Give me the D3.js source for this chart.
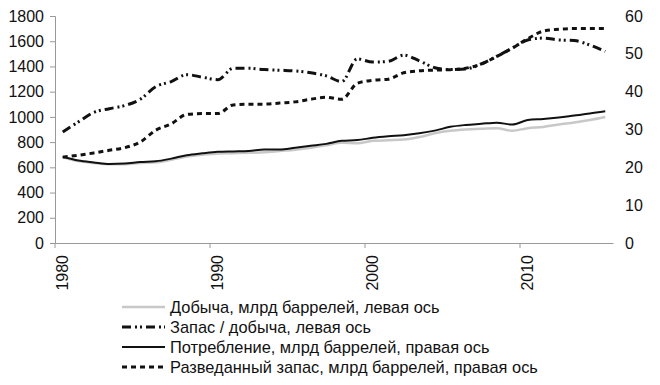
<!DOCTYPE html>
<html>
<head>
<meta charset="utf-8">
<script src="https://cdn.jsdelivr.net/npm/d3@7"></script>
<style>
  body { margin: 0; background: #fff; }
  text { font-family: "Liberation Sans", Arial, sans-serif; fill: #111; }
</style>
</head>
<body>
<div id="chart-area"></div>
<script>
// data
var years = d3.range(1980, 2016);

// left axis
var production = [680, 650, 635, 625, 625, 635, 640, 660, 685, 700, 710, 712, 715, 720, 730, 740, 755, 775,
    795, 790, 810, 815, 820, 840, 870, 890, 900, 905, 910, 890, 910, 920, 940, 955, 975, 1000];
var ratio = [880, 960, 1035, 1065, 1090, 1140, 1240, 1280, 1335, 1315, 1295, 1385, 1385, 1375, 1370, 1365, 1350, 1325,
    1280, 1460, 1435, 1440, 1490, 1445, 1390, 1375, 1380, 1420, 1480, 1545, 1610, 1625, 1610, 1605, 1570, 1520];
// right axis
var consumption = [22.8, 21.8, 21.3, 20.9, 21.0, 21.4, 21.6, 22.3, 23.2, 23.7, 24.1, 24.2, 24.3, 24.7, 24.7, 25.2, 25.7, 26.2,
    27.0, 27.2, 27.8, 28.2, 28.5, 29.0, 29.7, 30.7, 31.2, 31.5, 31.8, 31.3, 32.5, 32.8, 33.2, 33.7, 34.2, 34.8];
var reserves = [22.7, 23.2, 23.8, 24.5, 25.2, 26.7, 29.8, 31.5, 34.0, 34.2, 34.2, 36.5, 36.7, 36.7, 37.0, 37.3, 38.0, 38.5,
    38.0, 42.2, 43.0, 43.3, 45.0, 45.5, 45.7, 45.8, 46.2, 47.3, 49.3, 51.5, 54.0, 56.0, 56.5, 56.7, 56.7, 56.7];

var leftTicks = d3.range(0, 1801, 200);
var rightTicks = d3.range(0, 61, 10);
var yearLabels = [1980, 1990, 2000, 2010];

var legendNames = [
    "Добыча, млрд баррелей, левая ось",
    "Запас / добыча, левая ось",
    "Потребление, млрд баррелей, правая ось",
    "Разведанный запас, млрд баррелей, правая ось"
];

var margin = { left: 55, right: 47, top: 16, bottom: 142 };
var width = 660 - margin.left - margin.right,
    height = 385 - margin.top - margin.bottom;

var svg = d3.select("#chart-area")
    .append("svg")
    .attr("width", 660)
    .attr("height", 385);

var g = svg.append("g")
    .attr("transform", "translate(" + margin.left + "," + margin.top + ")");

// Scales
var x = d3.scaleBand()
    .domain(years)
    .range([0, width]);
var yLeft = d3.scaleLinear()
    .domain([0, 1800])
    .range([height, 0]);
var yRight = d3.scaleLinear()
    .domain([0, 60])
    .range([height, 0]);

function cx(i) { return x(years[i]) + x.bandwidth() / 2; }

// Left axis
var leftAxis = g.append("g")
    .call(d3.axisLeft(yLeft).tickValues(leftTicks).tickFormat(d3.format("d")).tickSize(5).tickPadding(6));
leftAxis.selectAll("text").style("font-size", "16px");
leftAxis.select(".domain").attr("stroke", "#999");
leftAxis.selectAll(".tick line").attr("stroke", "#999");

// Right axis: labels only
var rightAxis = g.append("g")
    .attr("transform", "translate(" + width + ",0)")
    .call(d3.axisRight(yRight).tickValues(rightTicks).tickSize(0).tickPadding(12));
rightAxis.selectAll("text").style("font-size", "16px");
rightAxis.select(".domain").remove();

// Bottom axis
var bottomAxis = g.append("g")
    .attr("transform", "translate(0," + height + ")")
    .call(d3.axisBottom(x).tickValues([]).tickSizeOuter(0));
bottomAxis.select(".domain").attr("stroke", "#999");
bottomAxis.selectAll(".yr")
    .data(yearLabels)
    .enter().append("line")
    .attr("x1", function(d) { return x(d); })
    .attr("x2", function(d) { return x(d); })
    .attr("y1", 0).attr("y2", 5)
    .attr("stroke", "#999");
bottomAxis.selectAll(".yrlabel")
    .data(yearLabels)
    .enter().append("text")
    .attr("transform", function(d) { return "translate(" + (x(d) + 7) + ",12) rotate(-90)"; })
    .attr("text-anchor", "end")
    .attr("dy", "0.35em")
    .style("font-size", "16px")
    .style("fill", "#111")
    .text(function(d) { return d; });

// Series
var series = [
    { values: production, scale: yLeft, color: "#c8c8c8", w: 2.5, dash: null },
    { values: ratio, scale: yLeft, color: "#111", w: 3, dash: "9,4,2,3,2,4" },
    { values: consumption, scale: yRight, color: "#111", w: 2, dash: null },
    { values: reserves, scale: yRight, color: "#111", w: 3, dash: "5,4" }
];

series.forEach(function(s) {
    var line = d3.line()
        .x(function(d, i) { return cx(i); })
        .y(function(d) { return s.scale(d); })
        .curve(d3.curveMonotoneX);
    g.append("path")
        .datum(s.values)
        .attr("fill", "none")
        .attr("stroke", s.color)
        .attr("stroke-width", s.w)
        .attr("stroke-dasharray", s.dash)
        .attr("d", line);
});

// Legend
var legend = svg.append("g")
    .attr("transform", "translate(122,307)");
var rows = legend.selectAll("g")
    .data(series)
    .enter().append("g")
    .attr("transform", function(d, i) { return "translate(0," + (i * 20) + ")"; });
rows.append("line")
    .attr("x1", 0).attr("x2", 43)
    .attr("stroke", function(d) { return d.color; })
    .attr("stroke-width", function(d) { return d.w; })
    .attr("stroke-dasharray", function(d) { return d.dash; });
rows.append("text")
    .attr("x", 48)
    .attr("dy", "0.35em")
    .style("font-size", "16.4px")
    .text(function(d, i) { return legendNames[i]; });
</script>
</body>
</html>
